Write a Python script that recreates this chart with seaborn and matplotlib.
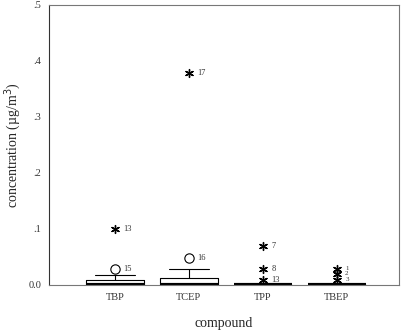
import matplotlib
matplotlib.use("Agg")
import matplotlib.pyplot as plt
import pandas as pd
import seaborn as sns

# box statistics (µg/m3)
compounds = ["TBP", "TCEP", "TPP", "TBEP"]
q1 = [0.0, 0.0, 0.0, 0.0]
medians = [0.0, 0.0, 0.0, 0.0]
q3 = [0.009, 0.013, 0.0, 0.0]
whisker_lo = [0.0, 0.0, 0.0, 0.0]
whisker_hi = [0.018, 0.029, 0.0, 0.0]

# outliers: compound, value, case number, kind (o = outlier, * = extreme)
out_compound = ["TBP", "TBP", "TCEP", "TCEP", "TPP", "TPP", "TPP", "TBEP", "TBEP", "TBEP"]
out_value = [0.029, 0.100, 0.048, 0.379, 0.070, 0.029, 0.009, 0.029, 0.020, 0.009]
out_case = ["15", "13", "16", "17", "7", "8", "13", "1", "2", "3"]
out_kind = ["o", "*", "o", "*", "*", "*", "*", "*", "*", "*"]

sns.set_style("white")
plt.rcParams["font.family"] = ["Liberation Serif", "DejaVu Serif"]

fig = plt.figure(figsize=(4.02, 3.34), dpi=100)
ax = fig.add_axes([49 / 402, 1 - 285 / 334, 350 / 402, 280 / 334])

stats = []
for i, c in enumerate(compounds):
    stats.append(dict(label=c, q1=q1[i], med=medians[i], q3=q3[i],
                      whislo=whisker_lo[i], whishi=whisker_hi[i], fliers=[]))
ax.bxp(stats, positions=range(len(compounds)), widths=0.78, capwidths=0.55,
       showfliers=False,
       boxprops=dict(color="black", linewidth=0.8),
       whiskerprops=dict(color="black", linewidth=0.8),
       capprops=dict(color="black", linewidth=0.8),
       medianprops=dict(color="black", linewidth=3, solid_capstyle="butt"))

df = pd.DataFrame({"compound": out_compound, "value": out_value,
                   "case": out_case, "kind": out_kind})
df["x"] = df["compound"].map({c: i for i, c in enumerate(compounds)})

circ = df[df["kind"] == "o"]
star = df[df["kind"] == "*"]
sns.scatterplot(data=circ, x="x", y="value", marker="o", s=45,
                facecolor="white", edgecolor="black", linewidth=0.8, ax=ax, legend=False)
sns.scatterplot(data=star, x="x", y="value", marker=(6, 2, 0), s=32,
                color="black", linewidth=1.0, ax=ax, legend=False)
for _, r in df.iterrows():
    fs = 5 if r["compound"] == "TBEP" else 6
    ax.annotate(r["case"], (r["x"], r["value"]), xytext=(6, 0),
                textcoords="offset points", fontsize=fs, va="center", ha="left",
                color="#333333")

ax.set_xlim(-0.89, 3.84)
ax.set_ylim(0, 0.5)
ax.set_xticks(range(len(compounds)))
ax.set_xticklabels(compounds, fontsize=7.5)
ax.set_yticks([0, 0.1, 0.2, 0.3, 0.4, 0.5])
ax.set_yticklabels(["0.0", ".1", ".2", ".3", ".4", ".5"], fontsize=7.5)
ax.tick_params(axis="both", length=2.5, width=1.5, direction="out", pad=3, colors="#333333")
ax.set_xlabel("compound", fontsize=10, va="center")
ax.set_ylabel("concentration (µg/m$^3$)", fontsize=10)
ax.xaxis.set_label_coords(0.5, -0.139)
ax.yaxis.set_label_coords(-0.075, 0.5)
for s in ax.spines.values():
    s.set_color("#777777")
    s.set_linewidth(0.8)
ax.spines["left"].set_color("#333333")

fig.savefig("out.png", dpi=100)
